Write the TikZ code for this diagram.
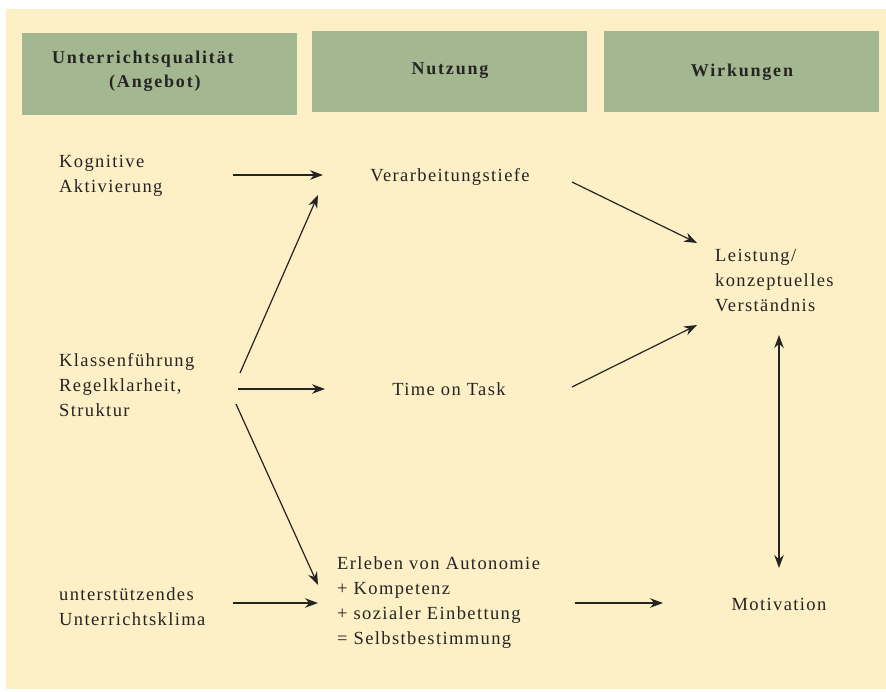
\documentclass[tikz,border=0pt]{standalone}
\usepackage{fontspec}
\setmainfont{Liberation Serif}[LetterSpace=7.5]
\usetikzlibrary{arrows.meta}
\definecolor{bgbeige}{RGB}{253,239,198}
\definecolor{headgreen}{RGB}{163,184,145}
\definecolor{ink}{RGB}{38,36,34}
\tikzset{
  header/.style={inner sep=0pt, text=ink, font=\fontsize{18}{24}\selectfont\bfseries\addfontfeature{LetterSpace=10}, align=left},
  lbl/.style={inner sep=0pt, text=ink, font=\fontsize{18.5}{25}\selectfont, align=left},
  arr/.style={draw=ink, line width=1.2pt, -{Stealth[length=13pt,width=9.5pt]}},
  darr/.style={draw=ink, line width=1.2pt, {Stealth[length=13pt,width=9.5pt]}-{Stealth[length=13pt,width=9.5pt]}}
}
\begin{document}
\begin{tikzpicture}[x=1pt,y=-1pt]
\useasboundingbox (0,0) rectangle (886,691);
\fill[white] (0,0) rectangle (886,691);
\fill[bgbeige] (6,9) rectangle (886,689);
% headers
\fill[headgreen] (22,33) rectangle (297,115);
\fill[headgreen] (312,31) rectangle (587,112);
\fill[headgreen] (604,31) rectangle (879,112);
\node[header, anchor=west] (h1) at (52,71) {Unterrichtsqualität\\\hspace*{57pt}(Angebot)};
\node[header] (h2) at (450,71) {Nutzung};
\node[header] (h3) at (742,72) {Wirkungen};
% texts
\node[lbl, anchor=west] (kog) at (59,176) {Kognitive\\Aktivierung};
\node[lbl, anchor=west] (kla) at (59,385) {Klassenführung\\Regelklarheit,\\Struktur};
\node[lbl, anchor=west] (unt) at (59,607) {unterstützendes\\Unterrichtsklima};
\node[lbl] (ver) at (450,177) {Verarbeitungstiefe};
\node[lbl] (tot) at (449,389) {Time on Task};
\node[lbl, anchor=west] (erl) at (337,603) {Erleben von Autonomie\\+ Kompetenz\\+ sozialer Einbettung\\= Selbstbestimmung};
\node[lbl, anchor=west] (lei) at (715,281) {Leistung/\\konzeptuelles\\Verständnis};
\node[lbl] (mot) at (779,604) {Motivation};
% connector end points
\coordinate (a1s) at (233,175); \coordinate (a1e) at (323,175);
\coordinate (a2s) at (240,373); \coordinate (a2e) at (318,195);
\coordinate (a3s) at (238,389); \coordinate (a3e) at (325,389);
\coordinate (a4s) at (236,404); \coordinate (a4e) at (318,585);
\coordinate (a5s) at (233,603); \coordinate (a5e) at (318,603);
\coordinate (a6s) at (572,182); \coordinate (a6e) at (697,243);
\coordinate (a7s) at (572,387); \coordinate (a7e) at (697,325);
\coordinate (a8s) at (575,603); \coordinate (a8e) at (663,603);
\coordinate (a9s) at (779,335); \coordinate (a9e) at (779,568);
\draw[arr] (a1s) -- (a1e);
\draw[arr] (a2s) -- (a2e);
\draw[arr] (a3s) -- (a3e);
\draw[arr] (a4s) -- (a4e);
\draw[arr] (a5s) -- (a5e);
\draw[arr] (a6s) -- (a6e);
\draw[arr] (a7s) -- (a7e);
\draw[arr] (a8s) -- (a8e);
\draw[darr] (a9s) -- (a9e);
\end{tikzpicture}
\end{document}
